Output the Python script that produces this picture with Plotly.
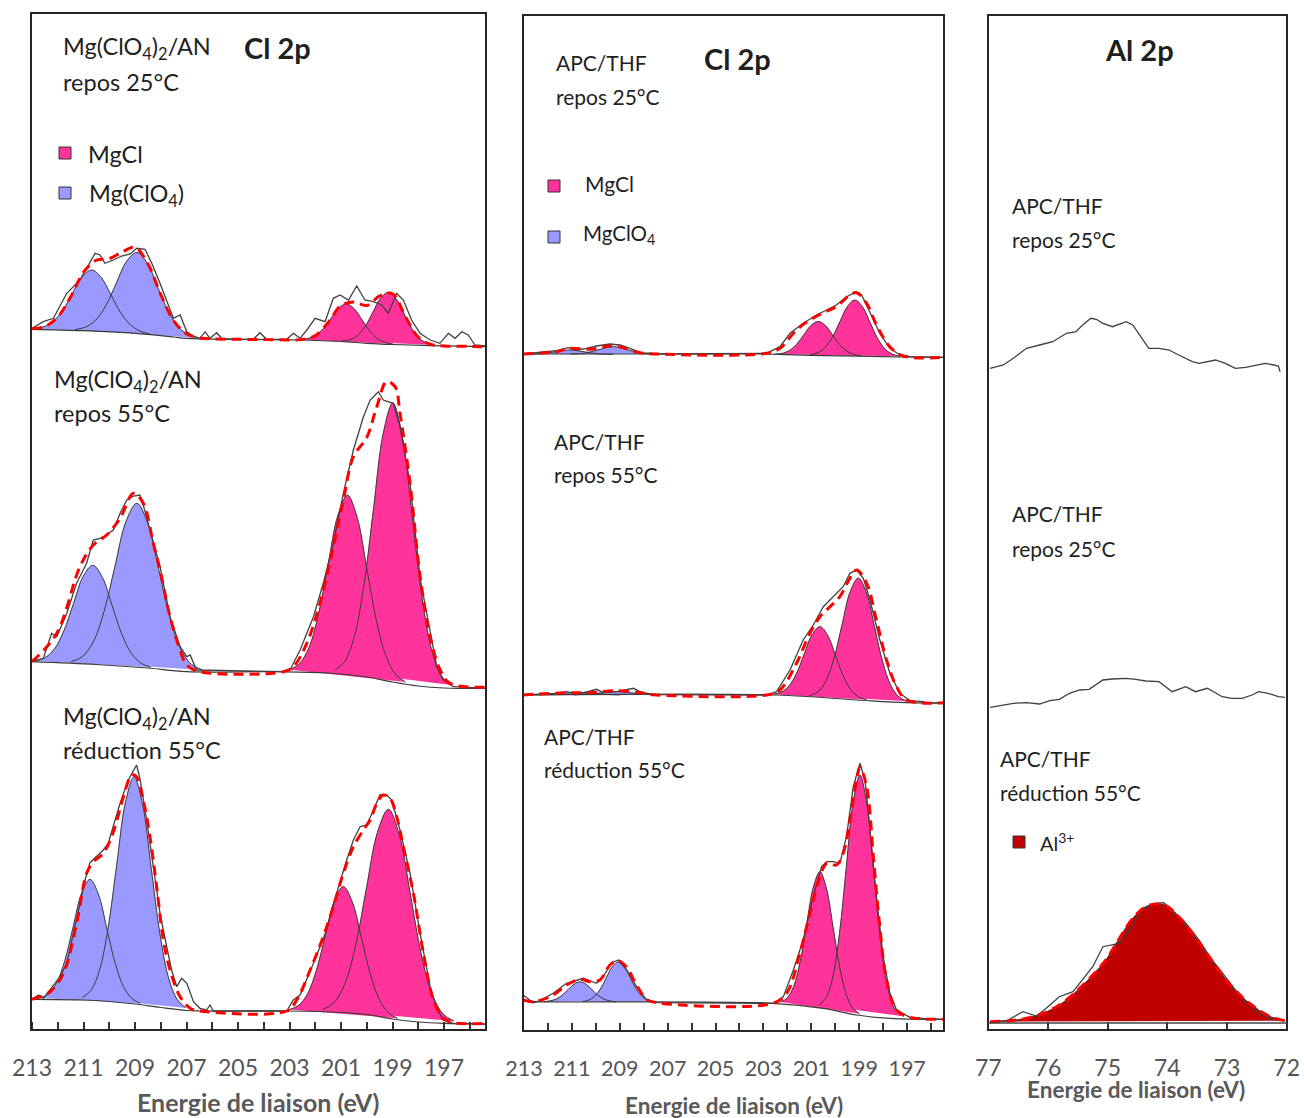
import plotly.graph_objects as go

W, H = 1304, 1118
FONT = "Lato, 'Open Sans', sans-serif"
PINK = "#FF3399"
LAV = "#9999FF"
ALRED = "#C00000"
FITRED = "#FF0000"
EDGE = "#3a3a3a"
RAWC = "#404040"

# ---------------------------------------------------------------- tick labels
cl_tick_vals = [213, 212, 211, 210, 209, 208, 207, 206, 205, 204, 203, 202, 201, 200, 199, 198, 197, 196]
cl_tick_text = ["213", "", "211", "", "209", "", "207", "", "205", "", "203", "", "201", "", "199", "", "197", ""]
al_tick_vals = [77, 76, 75, 74, 73, 72]
al_tick_text = ["77", "76", "75", "74", "73", "72"]

# ================================================================ Panel 1 : Mg(ClO4)2/AN, Cl 2p
# --- repos 25 C
p1t_bg_E = [213, 211, 209, 207.5, 207, 205, 202.5, 201, 200, 199, 197.5, 195.37]
p1t_bg_y = [16.7, 15.3, 12.7, 9, 7.7, 6.7, 6, 4.5, 2.7, 1.5, 0.3, -0.7]
p1t_c1_E = [212.93, 212.555, 212.18, 211.805, 211.43, 211.055, 210.68, 210.305, 209.93, 209.555, 209.18, 208.805, 208.43]
p1t_c1_y = [17.3, 19.1, 24.5, 35.8, 52.6, 69.1, 76, 68.2, 50.9, 33.2, 21.3, 14.9, 11.9]
p1t_c2_E = [211.33, 210.93, 210.53, 210.13, 209.73, 209.33, 208.93, 208.53, 208.13, 207.73, 207.33, 206.93, 206.53]
p1t_c2_y = [16.4, 18.8, 25.8, 40.5, 62.7, 84.7, 93.5, 83, 59.5, 35.8, 19.4, 11.2, 8.1]
p1t_c3_E = [202.58, 202.28, 201.98, 201.68, 201.38, 201.08, 200.78, 200.48, 200.18, 199.88, 199.58, 199.28, 198.98]
p1t_c3_y = [6.4, 7.5, 10.7, 17.5, 27.9, 38.1, 42, 37, 25.9, 14.8, 7.2, 3.5, 1.9]
p1t_c4_E = [200.96, 200.66, 200.36, 200.06, 199.76, 199.46, 199.16, 198.86, 198.56, 198.26, 197.96, 197.66, 197.36]
p1t_c4_y = [5, 6.1, 10.3, 19.7, 33.9, 47.9, 53.7, 47.2, 32.6, 17.8, 7.7, 2.8, 0.9]
p1t_env_E = [213, 212.5, 212, 211.5, 211, 210.5, 210, 209.5, 209, 208.5, 208, 207.5, 207, 206.5, 206, 205, 204, 203,
             202.5, 202, 201.5, 201, 200.5, 200, 199.5, 199, 198.5, 198, 197.5, 197, 196, 195.37]
p1t_env_y = [17.3, 19.5, 29, 49.1, 73.8, 85.8, 87.4, 94, 98.6, 82.2, 51.5, 25.2, 12.2, 8.1, 7, 6.7, 6.4, 6.1,
             6.6, 10.4, 23.5, 40.5, 43.9, 40.5, 50.1, 52.2, 29.5, 8.8, 1.5, 0.1, -0.4, -0.7]
p1t_raw_E = [213.0, 212.56, 212.17, 211.65, 211.14, 210.75, 210.55, 210.36, 210.17, 209.84, 209.52, 209.19, 208.93,
             208.61, 208.35, 208.03, 207.77, 207.51, 207.25, 206.99, 206.74, 206.48, 206.28, 206.09, 205.83, 205.64,
             205.18, 204.41, 204.15, 203.89, 203.11, 202.85, 202.59, 202.33, 202.01, 201.62, 201.30, 201.04, 200.71,
             200.39, 200.07, 199.74, 199.42, 199.16, 198.84, 198.58, 198.26, 197.93, 197.54, 197.16, 196.83, 196.57,
             196.31, 196.06, 195.80, 195.40]
p1t_raw_y = [17.7, 24.3, 27.7, 52.7, 66, 82.7, 92.7, 91, 82.7, 86, 90, 92, 97.7, 96.7, 82.7, 62.7, 46, 27.7, 31,
             14.3, 10, 7.7, 14.3, 7.7, 13.3, 7.7, 6.7, 6.7, 13.3, 6.7, 6.7, 12.7, 7.7, 16, 27.7, 24.3, 47.7, 51, 46,
             60, 46, 44.3, 41, 32.7, 52.7, 46, 26, 12.7, 6, 2.7, 12.7, 7.7, 14.3, 11, 1, 0]

# --- repos 55 C
p1m_bg_E = [213, 210.5, 208.5, 207, 203.5, 201.5, 200, 199, 198, 197, 195.37]
p1m_bg_y = [26.3, 23.5, 20, 16.3, 16.3, 15, 11, 6, 2, 0, -0.5]
p1m_c1_E = [212.89, 212.515, 212.14, 211.765, 211.39, 211.015, 210.64, 210.265, 209.89, 209.515, 209.14, 208.765, 208.39]
p1m_c1_y = [27.3, 30.1, 38.7, 57.0, 84.5, 111.5, 122.7, 110.5, 82.4, 53.9, 34.5, 24.8, 20.8]
p1m_c2_E = [211.48, 211.055, 210.63, 210.205, 209.78, 209.355, 208.93, 208.505, 208.08, 207.655, 207.23, 206.805, 206.38]
p1m_c2_y = [26.4, 31.3, 45.8, 76.3, 121.7, 166.2, 184.7, 164.7, 118.5, 71.3, 39.0, 23.5, 18.1]
p1m_c3_E = [203.0, 202.625, 202.25, 201.875, 201.5, 201.125, 200.75, 200.375, 200.0, 199.625, 199.25, 198.875, 198.5]
p1m_c3_y = [18.3, 24.0, 40.1, 73.7, 123.6, 172.4, 192.8, 170.6, 119.6, 67.3, 31.5, 13.4, 6.0]
p1m_c4_E = [201.24, 200.865, 200.49, 200.115, 199.74, 199.365, 198.99, 198.615, 198.24, 197.865, 197.49, 197.115, 196.74]
p1m_c4_y = [17.7, 26.2, 50.7, 102.1, 178.9, 254.1, 285, 250.7, 172.2, 92.3, 38.7, 12.4, 3.1]
p1m_env_E = [213.0, 212.04, 211.14, 210.62, 210.10, 209.58, 209.06, 208.68, 208.29, 208.03, 207.64, 207.25, 206.99,
             206.48, 203.24, 202.85, 202.33, 201.82, 201.30, 200.91, 200.52, 200.0, 199.61, 199.23, 198.90, 198.71,
             198.32, 197.93, 197.54, 197.15, 196.77, 195.37]
p1m_env_y = [26.3, 54.7, 121.3, 143, 153, 169.7, 194.7, 184.7, 144.7, 118, 71.3, 38, 23, 16.3, 16.3, 21.3, 44.7,
             84.7, 141.3, 188, 231.3, 250.7, 281.3, 306.3, 301.3, 274.7, 204.7, 112, 51.3, 18, 4.7, 0.7]
p1m_raw_E = [213.0, 212.56, 212.24, 212.04, 211.65, 211.27, 210.88, 210.62, 210.36, 210.23, 209.84, 209.58, 209.32,
             209.06, 208.81, 208.68, 208.42, 208.03, 207.64, 207.25, 206.99, 206.86, 206.61, 203.24, 202.98, 202.59,
             202.07, 201.69, 201.30, 200.91, 200.52, 200.13, 199.87, 199.55, 199.36, 199.10, 198.97, 198.71, 198.32,
             197.93, 197.54, 197.28, 197.03, 196.64, 195.37]
p1m_raw_y = [26.3, 29.7, 54.7, 51.3, 74.7, 104.7, 124.7, 148, 149.7, 151.3, 158, 174.7, 188, 192, 193, 183, 158,
             121.3, 71.3, 41.3, 31.3, 33, 18, 16.3, 18, 38, 71.3, 104.7, 144.7, 194.7, 238, 271.3, 288, 296.3, 288,
             286.3, 284.7, 261.3, 204.7, 110, 54.7, 21.3, 8, 1.3, -0.3]

# --- reduction 55 C
p1b_bg_E = [213, 211, 210, 209, 208, 207, 206.5, 203, 201, 200, 199, 198, 197, 195.4]
p1b_bg_y = [30.7, 30, 28.5, 26, 22.5, 19.5, 19, 19, 17.5, 15.5, 11, 8, 6.7, 6]
p1b_c1_E = [212.70, 212.375, 212.05, 211.725, 211.40, 211.075, 210.75, 210.425, 210.10, 209.775, 209.45, 209.125, 208.80]
p1b_c1_y = [31.9, 35.8, 46.8, 69.6, 103.5, 136.8, 150.6, 135.9, 102.1, 67.2, 43.5, 31.6, 26.6]
p1b_c2_E = [211.05, 210.715, 210.38, 210.045, 209.71, 209.375, 209.04, 208.705, 208.37, 208.035, 207.70, 207.365, 207.03]
p1b_c2_y = [32.5, 39.6, 59.8, 102.3, 165.5, 227.2, 253.1, 225.3, 161.5, 96.3, 52.3, 30.6, 22.1]
p1b_c3_E = [203.01, 202.66, 202.31, 201.96, 201.61, 201.26, 200.91, 200.56, 200.21, 199.86, 199.51, 199.16, 198.81]
p1b_c3_y = [20.4, 24.4, 35.7, 59.4, 94.6, 129, 143.4, 127.8, 92.3, 55.8, 30.2, 17.2, 11.7]
p1b_c4_E = [201.71, 201.285, 200.86, 200.435, 200.01, 199.585, 199.16, 198.735, 198.31, 197.885, 197.46, 197.035, 196.61]
p1b_c4_y = [20.6, 27.0, 45.6, 84.3, 142.3, 197.6, 220.7, 194.6, 135.8, 75.7, 35.4, 15.9, 8.8]
p1b_env_E = [213.0, 212.30, 211.78, 211.27, 210.88, 210.62, 210.23, 209.84, 209.45, 209.13, 208.94, 208.68, 208.42,
             208.16, 207.90, 207.64, 207.25, 206.86, 206.48, 203.11, 202.72, 202.20, 201.69, 201.30, 200.91, 200.52,
             200.13, 199.87, 199.61, 199.36, 199.10, 198.84, 198.58, 198.19, 197.80, 197.41, 197.03, 196.64, 195.40]
p1b_env_y = [30.7, 38.3, 56.7, 106.7, 156.7, 168.3, 176.7, 198.3, 233.3, 255, 253.3, 230, 193.3, 143.3, 90, 60,
             33.3, 21.7, 19, 19, 30, 60, 93.3, 123.3, 156.7, 183.3, 200, 210, 226.7, 235, 231.7, 213.3, 183.3, 136.7,
             76.7, 30, 11.7, 7.3, 6.7]
p1b_raw_E = [213.0, 212.75, 212.56, 211.91, 211.65, 211.27, 210.94, 210.75, 210.49, 210.23, 210.04, 209.84, 209.58,
             209.26, 209.06, 208.94, 208.81, 208.55, 208.29, 208.03, 207.77, 207.58, 207.38, 207.19, 206.99, 206.73,
             206.48, 206.22, 206.09, 205.96, 203.11, 202.85, 202.59, 202.07, 201.56, 201.17, 200.78, 200.52, 200.26,
             200.0, 199.74, 199.49, 199.23, 199.03, 198.71, 198.32, 197.93, 197.54, 197.28, 197.03, 196.64, 195.40]
p1b_raw_y = [30.7, 35, 31.7, 53.3, 66.7, 110, 150, 167.3, 173.3, 180, 186.7, 203.3, 226.7, 250, 260, 265, 251.7,
             210, 163.3, 116.7, 83.3, 60, 43.3, 51.7, 46.7, 28.3, 21.7, 20, 25, 19, 19, 30, 35, 66.7, 100, 136.7,
             170, 190, 203.3, 205, 220, 235, 235, 230, 200, 156.7, 96.7, 43.3, 21.7, 10, 6.7, 6]

# ================================================================ Panel 2 : APC/THF, Cl 2p
# --- repos 25 C
p2t_bg_E = [213.04, 207, 203, 202, 201, 199, 197.3, 195.46]
p2t_bg_y = [3, 3, 3, 2.3, 1.6, 0.8, 0, -0.3]
p2t_c1_E = [212.88, 212.28, 211.68, 211.08, 210.48, 209.88, 209.28]
p2t_c1_y = [2.9, 3.2, 5.3, 7.0, 5.2, 3.1, 2.7]
p2t_c2_E = [211.07, 210.47, 209.87, 209.27, 208.67, 208.07, 207.47]
p2t_c2_y = [3.0, 3.8, 7.3, 10.3, 7.2, 3.6, 2.9]
p2t_c3_E = [202.51, 202.21, 201.91, 201.61, 201.31, 201.01, 200.71, 200.41, 200.11, 199.81, 199.51, 199.21, 198.91]
p2t_c3_y = [3.0, 3.6, 6.6, 12.8, 22.3, 31.6, 35.5, 31.4, 21.9, 12.2, 5.7, 2.4, 1.2]
p2t_c4_E = [201.07, 200.755, 200.44, 200.125, 199.81, 199.495, 199.18, 198.865, 198.55, 198.235, 197.92, 197.605, 197.29]
p2t_c4_y = [2.2, 4.0, 9.0, 19.5, 35.2, 50.4, 56.9, 50.2, 34.6, 18.7, 7.9, 2.7, 0.7]
p2t_env_E = [213.04, 211.64, 211.08, 210.24, 209.27, 208.16, 207.46, 202.87, 202.31, 201.62, 201.06, 200.50, 199.95,
             199.39, 199.11, 198.69, 198.28, 197.72, 197.16, 195.46]
p2t_env_y = [3, 5.3, 8.7, 7.7, 11.3, 4.3, 3, 3.7, 8.7, 27, 37, 44.3, 50.3, 62, 64.3, 53.7, 32, 10.3, 1, -0.3]
p2t_raw_E = [213.04, 212.33, 211.64, 211.15, 210.80, 210.38, 209.97, 209.41, 208.99, 208.57, 208.16, 207.46, 202.87,
             202.31, 201.89, 201.34, 200.78, 200.36, 199.95, 199.53, 199.11, 198.90, 198.55, 198.14, 197.72, 197.30,
             196.88, 195.46]
p2t_raw_y = [3, 4.3, 6.3, 9.3, 7, 8.7, 11, 13, 12, 8.7, 4.3, 3, 3.7, 10.3, 23.7, 33.7, 42, 47, 52, 60.3, 65.3, 62,
             43.7, 23.7, 8.7, 2, 0.3, -0.3]

# --- repos 55 C
p2m_bg_E = [213.04, 202.45, 199.11, 197.02, 195.46]
p2m_bg_y = [8, 8, 3, 0.3, 0.3]
p2m_c1_E = [212.6, 212.0, 211.4, 210.8, 210.2, 209.6, 209.0]
p2m_c1_y = [8.2, 8.6, 9.6, 10.4, 9.6, 8.6, 8.1]
p2m_c2_E = [210.93, 210.33, 209.73, 209.13, 208.53, 207.93, 207.33]
p2m_c2_y = [8.2, 8.9, 10.2, 11.5, 10.2, 8.9, 8.2]
p2m_c3_E = [202.59, 202.265, 201.94, 201.615, 201.29, 200.965, 200.64, 200.315, 199.99, 199.665, 199.34, 199.015, 198.69]
p2m_c3_y = [8.8, 10.8, 16.8, 29.7, 49.4, 68.5, 76.3, 67.5, 47.4, 26.8, 12.9, 6.0, 3.3]
p2m_c4_E = [201.08, 200.74, 200.40, 200.06, 199.72, 199.38, 199.04, 198.70, 198.36, 198.02, 197.68, 197.34, 197.00]
p2m_c4_y = [7.4, 10.8, 21.4, 44.0, 77.9, 111.1, 124.9, 110.1, 75.9, 41.0, 17.5, 6.0, 1.7]
p2m_env_E = [213.04, 211.22, 210.24, 209.13, 208.16, 207.60, 202.87, 202.31, 201.62, 201.06, 200.64, 200.22, 199.81,
             199.39, 199.11, 198.69, 198.28, 197.86, 197.44, 197.02, 195.46]
p2m_env_y = [8, 10.3, 10.3, 12.3, 10.3, 8.3, 8, 13, 39.7, 69.7, 86.3, 96.3, 106.3, 124.7, 133, 119.7, 83, 43, 16.3,
             3, 0.3]
p2m_raw_E = [213.04, 211.64, 211.22, 210.80, 210.38, 209.97, 209.69, 209.13, 208.43, 208.16, 207.60, 202.87, 202.45,
             201.89, 201.34, 200.92, 200.50, 200.08, 199.67, 199.39, 199.11, 198.83, 198.55, 198.14, 197.72, 197.30,
             196.88, 196.33, 196.05, 195.46]
p2m_raw_y = [8, 9.7, 11.3, 9, 11, 13.7, 10.3, 11.3, 14.7, 11.3, 8.3, 8, 11.3, 33, 63, 78, 96.3, 106.3, 116.3, 129.7,
             133, 124.7, 103, 63, 29.7, 9.7, 2.3, 1.3, -0.3, 0.3]

# --- reduction 55 C
p2b_bg_E = [213.04, 212.61, 202.59, 200.50, 199.11, 197.72, 195.46]
p2b_bg_y = [30, 29.3, 27.7, 22.7, 16, 12.7, 11.7]
p2b_c1_E = [212.16, 211.91, 211.66, 211.41, 211.16, 210.91, 210.66, 210.41, 210.16, 209.91, 209.66, 209.41, 209.16]
p2b_c1_y = [29.4, 30.1, 31.9, 35.7, 41.3, 46.8, 49.2, 46.8, 41.3, 35.7, 31.9, 30.1, 29.2]
p2b_c2_E = [210.56, 210.31, 210.06, 209.81, 209.56, 209.31, 209.06, 208.81, 208.56, 208.31, 208.06, 207.81, 207.56]
p2b_c2_y = [29.4, 30.8, 34.4, 42, 53.3, 64.3, 69, 64.3, 53.3, 42, 34.4, 30.8, 29.4]
p2b_c3_E = [202.29, 202.015, 201.74, 201.465, 201.19, 200.915, 200.64, 200.365, 200.09, 199.815, 199.54, 199.265, 198.99]
p2b_c3_y = [28.9, 32.8, 44.4, 69.5, 107.2, 144, 159.3, 142, 103.3, 63.7, 36.5, 22.8, 17.2]
p2b_c4_E = [200.68, 200.395, 200.11, 199.825, 199.54, 199.255, 198.97, 198.685, 198.40, 198.115, 197.83, 197.545, 197.26]
p2b_c4_y = [26.1, 32.7, 53.4, 97.4, 163.7, 228.5, 255.7, 226.8, 159.9, 91.5, 45.4, 23.1, 15.1]
p2b_env_E = [213.04, 212.61, 211.78, 211.22, 210.66, 210.24, 209.83, 209.41, 209.06, 208.71, 208.30, 207.88, 207.46,
             202.59, 202.03, 201.48, 201.06, 200.64, 200.36, 199.95, 199.67, 199.39, 199.11, 198.97, 198.69, 198.41,
             198.14, 197.86, 197.44, 196.88, 195.46]
p2b_env_y = [31, 29.3, 36, 46, 51.7, 49.3, 51, 66, 70.3, 63.7, 46, 31.7, 28.3, 27.7, 37.7, 77.7, 117.7, 154.3, 167.7,
             166, 177.7, 211, 251, 263.7, 244.3, 174.3, 104.3, 51, 21, 13.7, 11.7]
p2b_raw_E = [213.04, 212.61, 212.33, 211.78, 211.22, 210.80, 210.52, 210.31, 209.97, 209.69, 209.34, 209.06, 208.71,
             208.30, 207.88, 207.46, 202.59, 202.17, 201.75, 201.34, 200.92, 200.57, 200.36, 200.08, 199.81, 199.53,
             199.25, 198.97, 198.76, 198.55, 198.28, 198.00, 197.72, 197.44, 197.16, 196.88, 196.33, 195.46]
p2b_raw_y = [36, 28.3, 30.3, 37.7, 47.7, 51, 52.7, 51, 47.7, 54.3, 68.3, 71, 61, 44.3, 31, 28.3, 27.7, 34.3, 61, 91,
             134.3, 164.3, 169.3, 169.3, 167.7, 194.3, 244.3, 267.7, 251, 201, 134.3, 74.3, 37.7, 21, 17.7, 13.7,
             12.7, 11.7]

# ================================================================ Panel 3 : APC/THF, Al 2p
p3t_raw_E = [76.97, 76.75, 76.58, 76.36, 76.14, 75.92, 75.69, 75.53, 75.42, 75.28, 75.19, 75.08, 74.92, 74.69, 74.58,
             74.44, 74.31, 74.14, 73.97, 73.81, 73.58, 73.47, 73.31, 73.19, 73.03, 72.86, 72.69, 72.53, 72.36, 72.22,
             72.14, 72.11]
p3t_raw_y = [1.7, 5, 11.7, 21.7, 25, 28.3, 36.7, 38.3, 45, 51.7, 50.7, 46.7, 43.3, 48.3, 45, 33.3, 21.7, 21.7, 20,
             15, 8.3, 6.7, 8.3, 10, 6.7, 1.7, 2.7, 5, 6.7, 5, 4, -1.7]
p3m_raw_E = [76.97, 76.75, 76.58, 76.36, 76.14, 75.97, 75.81, 75.64, 75.47, 75.31, 75.08, 74.92, 74.69, 74.53, 74.36,
             74.14, 73.92, 73.69, 73.53, 73.33, 73.08, 72.92, 72.75, 72.58, 72.47, 72.31, 72.14, 72.03]
p3m_raw_y = [2.7, 5, 6.7, 7.3, 6, 9.3, 10.7, 16.7, 20, 20.7, 30, 31, 31.7, 30.7, 29, 28.3, 18.3, 23.3, 18.3, 21.7,
             13.3, 11.7, 11.7, 15, 18.3, 16.7, 13.3, 12.7]
p3b_al_E = [76.97, 76.64, 76.36, 76.08, 75.81, 75.53, 75.25, 75.03, 74.81, 74.58, 74.36, 74.19, 74.03, 73.81, 73.58,
            73.36, 73.14, 72.92, 72.69, 72.47, 72.25, 72.03]
p3b_al_y = [2.3, 3.3, 5.7, 10.7, 19, 32.3, 49, 64, 85, 105.7, 117.3, 120, 118.7, 107.3, 90.7, 72.3, 54, 37.3, 24, 14,
            6.7, 3.3]
p3b_raw_E = [76.97, 76.69, 76.42, 76.19, 76.03, 75.81, 75.58, 75.42, 75.25, 75.08, 74.94, 74.81, 74.64, 74.42, 74.19,
             74.06, 73.92, 73.69, 73.47, 73.25, 73.03, 72.86, 72.69, 72.47, 72.25, 72.03]
p3b_raw_y = [2.3, 3.3, 12.3, 8, 15.7, 27.3, 32.3, 44, 57.3, 77.3, 79, 80.7, 94, 114, 120.7, 121.3, 114, 100.7, 84,
             64, 47.3, 34, 22.3, 10.7, 4.7, 3.3]

# ================================================================ layout geometry (pixels)
# k, left, right, top, bottom, baseline pixel, x-range, bottom-axis tick set, tick font size
SUBPLOTS = [
    (1, 31, 486, 13, 350, 346, [213.04, 195.37], None, 0),
    (2, 31, 486, 346, 692, 688, [213.04, 195.37], None, 0),
    (3, 31, 486, 688, 1030, 1030, [213.04, 195.37], "cl", 23),
    (4, 523, 944, 15, 360, 357, [213.04, 195.46], None, 0),
    (5, 523, 944, 356, 706, 703, [213.04, 195.46], None, 0),
    (6, 523, 944, 697, 1031, 1031, [213.04, 195.46], "cl", 21.5),
    (7, 988, 1287, 15, 373, 370, [77.005, 71.995], None, 0),
    (8, 988, 1287, 370, 713, 710, [77.005, 71.995], None, 0),
    (9, 988, 1287, 697, 1030, 1024, [77.005, 71.995], "al", 23),
]


def X(p):
    return p / W


def Y(p):
    return 1 - p / H


fig = go.Figure()


def names(k):
    return ("x" if k == 1 else f"x{k}"), ("y" if k == 1 else f"y{k}")


def add_spectrum(k, comps=(), raw=None, env=None, bg=None):
    xs, ys = names(k)
    common = dict(xaxis=xs, yaxis=ys, showlegend=False, hoverinfo="skip", mode="lines")
    for E, Yv, col in comps:
        # straight base between the two tails, then the component filled down to it
        fig.add_trace(go.Scatter(x=[E[0], E[-1]], y=[Yv[0], Yv[-1]], line=dict(width=0, color=col), **common))
        fig.add_trace(go.Scatter(x=E, y=Yv, fill="tonexty", fillcolor=col,
                                 line=dict(width=0.5, color=col, shape="spline"), **common))
    for E, Yv, col in comps:
        fig.add_trace(go.Scatter(x=E, y=Yv, line=dict(width=1, color=EDGE, shape="spline"), **common))
    if bg is not None:
        fig.add_trace(go.Scatter(x=bg[0], y=bg[1], line=dict(width=1.2, color=EDGE, shape="spline"), **common))
    if raw is not None:
        fig.add_trace(go.Scatter(x=raw[0], y=raw[1], line=dict(width=1.3, color=RAWC), **common))
    if env is not None:
        fig.add_trace(go.Scatter(x=env[0], y=env[1],
                                 line=dict(width=3, color=FITRED, dash="10px,6px", shape="spline"), **common))


add_spectrum(1, [(p1t_c1_E, p1t_c1_y, LAV), (p1t_c2_E, p1t_c2_y, LAV),
                 (p1t_c3_E, p1t_c3_y, PINK), (p1t_c4_E, p1t_c4_y, PINK)],
             raw=(p1t_raw_E, p1t_raw_y), env=(p1t_env_E, p1t_env_y), bg=(p1t_bg_E, p1t_bg_y))
add_spectrum(2, [(p1m_c1_E, p1m_c1_y, LAV), (p1m_c2_E, p1m_c2_y, LAV),
                 (p1m_c3_E, p1m_c3_y, PINK), (p1m_c4_E, p1m_c4_y, PINK)],
             raw=(p1m_raw_E, p1m_raw_y), env=(p1m_env_E, p1m_env_y), bg=(p1m_bg_E, p1m_bg_y))
add_spectrum(3, [(p1b_c1_E, p1b_c1_y, LAV), (p1b_c2_E, p1b_c2_y, LAV),
                 (p1b_c3_E, p1b_c3_y, PINK), (p1b_c4_E, p1b_c4_y, PINK)],
             raw=(p1b_raw_E, p1b_raw_y), env=(p1b_env_E, p1b_env_y), bg=(p1b_bg_E, p1b_bg_y))
add_spectrum(4, [(p2t_c1_E, p2t_c1_y, LAV), (p2t_c2_E, p2t_c2_y, LAV),
                 (p2t_c3_E, p2t_c3_y, PINK), (p2t_c4_E, p2t_c4_y, PINK)],
             raw=(p2t_raw_E, p2t_raw_y), env=(p2t_env_E, p2t_env_y), bg=(p2t_bg_E, p2t_bg_y))
add_spectrum(5, [(p2m_c1_E, p2m_c1_y, LAV), (p2m_c2_E, p2m_c2_y, LAV),
                 (p2m_c3_E, p2m_c3_y, PINK), (p2m_c4_E, p2m_c4_y, PINK)],
             raw=(p2m_raw_E, p2m_raw_y), env=(p2m_env_E, p2m_env_y), bg=(p2m_bg_E, p2m_bg_y))
add_spectrum(6, [(p2b_c1_E, p2b_c1_y, LAV), (p2b_c2_E, p2b_c2_y, LAV),
                 (p2b_c3_E, p2b_c3_y, PINK), (p2b_c4_E, p2b_c4_y, PINK)],
             raw=(p2b_raw_E, p2b_raw_y), env=(p2b_env_E, p2b_env_y), bg=(p2b_bg_E, p2b_bg_y))
add_spectrum(7, raw=(p3t_raw_E, p3t_raw_y))
add_spectrum(8, raw=(p3m_raw_E, p3m_raw_y))
add_spectrum(9, [(p3b_al_E, p3b_al_y, ALRED)], raw=(p3b_raw_E, p3b_raw_y), env=(p3b_al_E, p3b_al_y))

# ---------------------------------------------------------------- axes
lay = {}
for k, x0, x1, top, bot, base, xr, tickset, tfs in SUBPLOTS:
    xs, ys = names(k)
    xkey = "xaxis" if k == 1 else f"xaxis{k}"
    ykey = "yaxis" if k == 1 else f"yaxis{k}"
    xa = dict(domain=[X(x0), X(x1)], range=xr, anchor=ys, showgrid=False, zeroline=False,
              showline=False, fixedrange=True, automargin=False)
    if tickset is None:
        xa.update(showticklabels=False, ticks="")
    else:
        tv, tt = (cl_tick_vals, cl_tick_text) if tickset == "cl" else (al_tick_vals, al_tick_text)
        xa.update(tickmode="array", tickvals=tv, ticktext=tt, ticks="inside", ticklen=8, tickwidth=1.5,
                  tickcolor="#333333", tickfont=dict(family=FONT, size=tfs, color="#555555"),
                  ticklabelstandoff=22)
    lay[xkey] = xa
    lay[ykey] = dict(domain=[Y(bot), Y(top)], range=[base - bot, base - top], anchor=xs, visible=False,
                     fixedrange=True, automargin=False)

# ---------------------------------------------------------------- shapes
shapes = []
for x0, x1, t, b in [(31, 486, 13, 1030), (523, 944, 15, 1031), (988, 1287, 15, 1030)]:
    shapes.append(dict(type="rect", xref="paper", yref="paper", x0=X(x0), x1=X(x1), y0=Y(b), y1=Y(t),
                       line=dict(color="#262626", width=2), layer="above"))
shapes.append(dict(type="line", xref="paper", yref="paper", x0=X(988), x1=X(1287), y0=Y(1023), y1=Y(1023),
                   line=dict(color="#444444", width=1.5)))
for x0, t, col in [(59, 147, PINK), (59, 187, LAV), (548, 180, PINK), (548, 231, LAV), (1013, 836, ALRED)]:
    shapes.append(dict(type="rect", xref="paper", yref="paper", x0=X(x0), x1=X(x0 + 12), y0=Y(t + 12), y1=Y(t),
                       fillcolor=col, line=dict(color="#333333", width=1), layer="above"))

# ---------------------------------------------------------------- annotations
ann = []


def txt(s, xp, yp, size=22, anchor="left", color="#1f1f1f"):
    ann.append(dict(text=s, x=X(xp), y=Y(yp), xref="paper", yref="paper", xanchor=anchor, yanchor="middle",
                    showarrow=False, font=dict(family=FONT, size=size, color=color)))


MG = "Mg(ClO<sub>4</sub>)<sub>2</sub>/AN"
S1, S2, S3 = 23.5, 21, 21
txt(MG, 61, 48, S1)
txt("repos 25°C", 61, 82, S1)
txt("<b>Cl 2p</b>", 277, 47, size=29, anchor="center")
txt("MgCl", 86, 154, S1)
txt("Mg(ClO<sub>4</sub>)", 87, 195, S1)
txt(MG, 52, 381, S1)
txt("repos 55°C", 52, 413, S1)
txt(MG, 61, 718, S1)
txt("réduction 55°C", 61, 750, S1)

txt("APC/THF", 554, 63, S2)
txt("repos 25°C", 554, 96, S2)
txt("<b>Cl 2p</b>", 738, 59, size=29, anchor="center")
txt("MgCl", 583, 184, S2)
txt("MgClO<sub>4</sub>", 581, 234, S2 - 0.5)
txt("APC/THF", 552, 441, S2)
txt("repos 55°C", 552, 475, S2)
txt("APC/THF", 542, 736, S2)
txt("réduction 55°C", 542, 769, S2)

txt("<b>Al 2p</b>", 1139, 49, size=29, anchor="center")
txt("APC/THF", 1010, 205, S3)
txt("repos 25°C", 1010, 239, S3)
txt("APC/THF", 1010, 513, S3)
txt("repos 25°C", 1010, 548, S3)
txt("APC/THF", 998, 758, S3)
txt("réduction 55°C", 998, 792, S3)
txt("Al<sup>3+</sup>", 1038, 842, 20)

txt("<b>Energie de liaison (eV)</b>", 258, 1102, size=25, anchor="center", color="#595959")
txt("<b>Energie de liaison (eV)</b>", 734, 1105, size=22.5, anchor="center", color="#595959")
txt("<b>Energie de liaison (eV)</b>", 1136, 1089, size=22.5, anchor="center", color="#595959")

fig.update_layout(width=W, height=H, margin=dict(l=0, r=0, t=0, b=0, autoexpand=False), paper_bgcolor="white",
                  plot_bgcolor="rgba(0,0,0,0)", showlegend=False, shapes=shapes, annotations=ann,
                  font=dict(family=FONT), **lay)

fig.write_html("out.html", config={"displayModeBar": False},
               post_script="document.body.style.margin='0';document.body.style.padding='0';")
